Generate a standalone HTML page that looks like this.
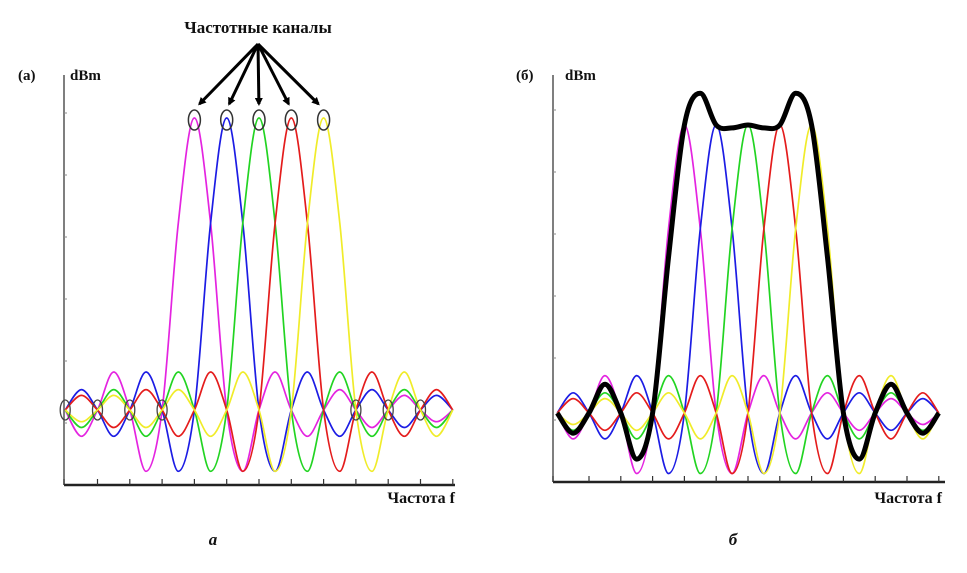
<!DOCTYPE html>
<html><head><meta charset="utf-8"><style>
html,body{margin:0;padding:0;background:#fff}
svg{display:block}
text{font-family:"Liberation Serif",serif;font-weight:bold;fill:#111}
</style></head><body>
<svg id="fig" width="967" height="573" viewBox="0 0 967 573">
<defs><marker id="ah" markerWidth="8" markerHeight="8" refX="6" refY="4" orient="auto" markerUnits="userSpaceOnUse"><path d="M0,0 L8,4 L0,8 z" fill="#000"/></marker></defs>
<text x="258" y="33" font-size="17" text-anchor="middle">Частотные каналы</text>
<text x="18" y="80" font-size="15">(a)</text>
<text x="70" y="80" font-size="15">dBm</text>
<text x="455" y="503" font-size="16" text-anchor="end">Частота f</text>
<text x="516" y="80" font-size="15">(б)</text>
<text x="565" y="80" font-size="15">dBm</text>
<text x="942" y="503" font-size="16" text-anchor="end">Частота f</text>
<text x="213" y="545" font-size="17" font-style="italic" text-anchor="middle">а</text>
<text x="733" y="545" font-size="17" font-style="italic" text-anchor="middle">б</text>
<g id="gA"></g>
<g id="gB"></g>
</svg>
<script>
// frequency grid (channel-spacing units)
const freqs = [-6,-5.5,-5,-4.5,-4,-3.5,-3,-2.5,-2,-1.5,-1,-0.5,0,0.5,1,1.5,2,2.5,3,3.5,4,4.5,5,5.5,6];
const seriesNames = ["magenta","blue","green","red","yellow"];
const seriesColors = ["#e424e0","#1c1ce4","#22d422","#e41c1c","#f0ec2a"];
const magenta = [0,-0.09,0,0.13,0,-0.21,0,0.64,1,0.64,0,-0.21,0,0.13,0,-0.09,0,0.07,0,-0.06,0,0.05,0,-0.04,0];
const blue    = [0,0.07,0,-0.09,0,0.13,0,-0.21,0,0.64,1,0.64,0,-0.21,0,0.13,0,-0.09,0,0.07,0,-0.06,0,0.05,0];
const green   = [0,-0.06,0,0.07,0,-0.09,0,0.13,0,-0.21,0,0.64,1,0.64,0,-0.21,0,0.13,0,-0.09,0,0.07,0,-0.06,0];
const red     = [0,0.05,0,-0.06,0,0.07,0,-0.09,0,0.13,0,-0.21,0,0.64,1,0.64,0,-0.21,0,0.13,0,-0.09,0,0.07,0];
const yellow  = [0,-0.04,0,0.05,0,-0.06,0,0.07,0,-0.09,0,0.13,0,-0.21,0,0.64,1,0.64,0,-0.21,0,0.13,0,-0.09,0];
const allSeries = [magenta,blue,green,red,yellow];
const xTicks = [-6,-5,-4,-3,-2,-1,0,1,2,3,4,5,6];
const peakChannels = [-2,-1,0,1,2];
const baselineMarkersA = [-6,-5,-4,-3,3,4,5];

const NS="http://www.w3.org/2000/svg";
function mk(tag,attrs,parent){const e=document.createElementNS(NS,tag);for(const k in attrs)e.setAttribute(k,attrs[k]);parent.appendChild(e);return e;}
function pathFrom(xs,ys){
  let d="M"+xs[0].toFixed(1)+","+ys[0].toFixed(1);
  for(let i=0;i<xs.length-1;i++){
    const x0=xs[Math.max(0,i-1)],y0=ys[Math.max(0,i-1)],x1=xs[i],y1=ys[i],x2=xs[i+1],y2=ys[i+1],x3=xs[Math.min(xs.length-1,i+2)],y3=ys[Math.min(xs.length-1,i+2)];
    d+=" C"+(x1+(x2-x0)/6).toFixed(1)+","+(y1+(y2-y0)/6).toFixed(1)+" "+(x2-(x3-x1)/6).toFixed(1)+","+(y2-(y3-y1)/6).toFixed(1)+" "+x2.toFixed(1)+","+y2.toFixed(1);
  }
  return d;
}
function panel(g,cx,sp,base,amp,axX,axTop,axY,axR,withSum){
  const X=f=>cx+f*sp, Y=v=>base-v*amp;
  const ya=mk("line",{x1:axX,y1:axTop,x2:axX,y2:axY,stroke:"#555","stroke-width":1.5},g);
  
  
  for(let i=1;i<=6;i++){
    const t=mk("line",{x1:axX,y1:axY-i*62,x2:axX+3,y2:axY-i*62,stroke:"#888","stroke-width":1},g);
    
    
  }
  const xa=mk("line",{x1:axX,y1:axY,x2:axR,y2:axY,stroke:"#222","stroke-width":2.5},g);
  
  
  xTicks.forEach(f=>{
    const t=mk("line",{x1:X(f)+(f===-6?axX-X(-6):0),y1:axY,x2:X(f)+(f===-6?axX-X(-6):0),y2:axY-6,stroke:"#333","stroke-width":1.2},g);
    
    
  });
  const xs=freqs.map(X);
  allSeries.forEach((s,i)=>{
    const p=mk("path",{d:pathFrom(xs,s.map(Y)),fill:"none",stroke:seriesColors[i],"stroke-width":1.7},g);
    
    
  });
  if(withSum){
    const sum=freqs.map((f,j)=>allSeries.reduce((a,s)=>a+s[j],0));
    const p=mk("path",{d:pathFrom(xs,sum.map(Y)),fill:"none",stroke:"#000","stroke-width":5,"stroke-linejoin":"round"},g);
    
    
  }
  return {X,Y};
}
const A=panel(document.getElementById("gA"),259,32.3,410,292,64,75,485,455,false);
panel(document.getElementById("gB"),748,31.8,413,288,553,75,482,945,true);
const gA=document.getElementById("gA");
peakChannels.forEach(c=>{
  const e=mk("ellipse",{cx:A.X(c),cy:A.Y(1)+2,rx:6,ry:10,fill:"none",stroke:"#333","stroke-width":1.5},gA);
  
  
  const a=mk("line",{x1:258,y1:44,x2:A.X(c)+(258-A.X(c))*0.08,y2:A.Y(1)-14,stroke:"#000","stroke-width":3,"marker-end":"url(#ah)"},gA);
  
  
});
baselineMarkersA.forEach(f=>{
  const e=mk("ellipse",{cx:A.X(f),cy:A.Y(0),rx:5,ry:10,fill:"none",stroke:"#444","stroke-width":1.3},gA);
  
  
});
</script>
</body></html>
